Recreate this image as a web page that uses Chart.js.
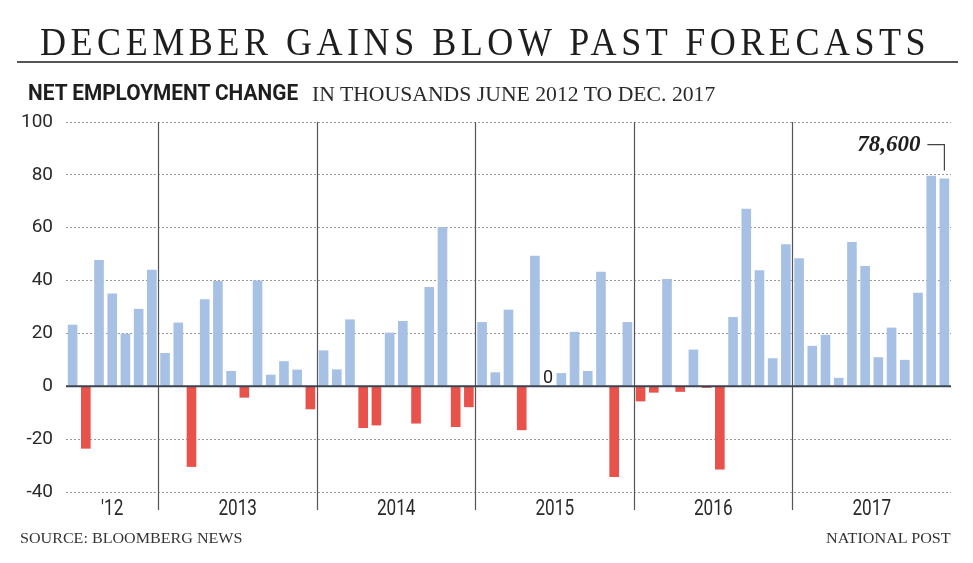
<!DOCTYPE html>
<html>
<head>
<meta charset="utf-8">
<script src="https://cdn.jsdelivr.net/npm/chart.js@4.4.1/dist/chart.umd.min.js"></script>
<style>
  body { margin: 0; background: #fff; }
  #wrap { position: relative; width: 973px; height: 563px; overflow: hidden; background: #fff; }
  #chart { position: absolute; left: 0; top: 0; }
  .txt { position: absolute; white-space: nowrap; transform-origin: left top; color: #1e1e1e; line-height: 1; }
  #title { font-family: "Liberation Serif", serif; font-size: 40px; letter-spacing: 5px; top: 22px; }
  #rule { position: absolute; left: 17px; top: 61px; width: 941px; height: 2px; background: #555; }
  #sub1 { font-family: Roboto, "Liberation Sans", sans-serif; font-weight: bold; font-size: 22px; top: 82px; }
  #sub2 { font-family: "Liberation Serif", serif; font-size: 21px; top: 84px; color: #2a2a2a; }
  #source, #credit { font-family: "Liberation Serif", serif; font-size: 15px; top: 531px; color: #333; }
</style>
</head>
<body>
<div id="wrap">
  <canvas id="chart" width="973" height="563"></canvas>
  <div id="title" class="txt">DECEMBER GAINS BLOW PAST FORECASTS</div>
  <div id="rule"></div>
  <div id="sub1" class="txt">NET EMPLOYMENT CHANGE</div>
  <div id="sub2" class="txt">IN THOUSANDS JUNE 2012 TO DEC. 2017</div>
  <div id="source" class="txt">SOURCE: BLOOMBERG NEWS</div>
  <div id="credit" class="txt">NATIONAL POST</div>
</div>
<script>
// net employment change, thousands, Jun 2012 - Dec 2017
const years = [2012, 2013, 2014, 2015, 2016, 2017];
const yearLabels = ["'12", '2013', '2014', '2015', '2016', '2017'];
const monthNames = ['Jan', 'Feb', 'Mar', 'Apr', 'May', 'Jun', 'Jul', 'Aug', 'Sep', 'Oct', 'Nov', 'Dec'];

const change2012 = [23.3, -23.6, 47.8, 35.1, 19.9, 29.3, 44.1]; // Jun-Dec
const change2013 = [12.6, 24.1, -30.5, 32.9, 39.8, 5.8, -4.3, 40.0, 4.4, 9.5, 6.3, -8.7];
const change2014 = [13.6, 6.4, 25.3, -15.8, -14.8, 20.3, 24.7, -14.1, 37.6, 60.3, -15.4, -7.9];
const change2015 = [24.3, 5.3, 29.0, -16.6, 49.4, 0, 5.0, 20.6, 5.8, 43.3, -34.3, 24.3];
const change2016 = [-5.7, -2.4, 40.6, -2.1, 13.9, -0.6, -31.5, 26.2, 67.2, 43.9, 10.6, 53.7];
const change2017 = [48.4, 15.3, 19.5, 3.2, 54.6, 45.5, 11.0, 22.2, 10.0, 35.4, 79.7, 78.6];

const yTicks = [-40, -20, 0, 20, 40, 60, 80, 100];
const lastLabel = '78,600';

const byYear = [change2012, change2013, change2014, change2015, change2016, change2017];
const labels = [];
const values = [];
const yearIndex = [];
byYear.forEach((arr, yi) => {
  const first = 12 - arr.length;
  arr.forEach((v, m) => {
    labels.push(monthNames[first + m] + ' ' + years[yi]);
    values.push(v);
    yearIndex.push(yi);
  });
});

const BLUE = '#a7c1e4';
const RED = '#e8524a';

// stretch html text so it spans the width seen in the picture
function fit(id, left, width, alignRight) {
  const el = document.getElementById(id);
  const w = el.offsetWidth;
  const s = width / w;
  el.style.left = (alignRight ? left - width : left) + 'px';
  el.style.transform = 'scaleX(' + s + ')';
}
fit('title', 40, 890);
fit('sub1', 28, 270);
fit('sub2', 312, 403);
fit('source', 20, 223);
fit('credit', 951, 125, true);

const decor = {
  id: 'decor',
  beforeDatasetsDraw(chart) {
    const { ctx, chartArea } = chart;
    const x = chart.scales.x;
    const step = x.getPixelForValue(1) - x.getPixelForValue(0);
    ctx.save();
    ctx.strokeStyle = '#555';
    ctx.lineWidth = 1.2;
    for (let i = 1; i < values.length; i++) {
      if (yearIndex[i] !== yearIndex[i - 1]) {
        const px = Math.round(x.getPixelForValue(i) - step / 2) + 0.5;
        ctx.beginPath();
        ctx.moveTo(px, chartArea.top);
        ctx.lineTo(px, chartArea.bottom + 18);
        ctx.stroke();
      }
    }
    ctx.restore();
  },
  afterDatasetsDraw(chart) {
    const { ctx, chartArea } = chart;
    const x = chart.scales.x, y = chart.scales.y;
    ctx.save();

    // zero line
    const y0 = y.getPixelForValue(0);
    ctx.strokeStyle = '#3a4352';
    ctx.lineWidth = 2;
    ctx.beginPath();
    ctx.moveTo(chartArea.left, y0);
    ctx.lineTo(chartArea.right, y0);
    ctx.stroke();

    // year labels centred in each section, condensed
    ctx.fillStyle = '#2a2a2a';
    ctx.font = '22px Roboto, "Liberation Sans", sans-serif';
    ctx.textAlign = 'center';
    ctx.textBaseline = 'middle';
    yearLabels.forEach((lab, yi) => {
      const first = yearIndex.indexOf(yi);
      const last = yearIndex.lastIndexOf(yi);
      const cx = (x.getPixelForValue(first) + x.getPixelForValue(last)) / 2;
      ctx.save();
      ctx.translate(cx, chartArea.bottom + 17);
      ctx.scale(0.78, 1);
      ctx.fillText(lab, 0, 0);
      ctx.restore();
    });

    // "0" over the flat month
    values.forEach((v, i) => {
      if (v === 0) {
        ctx.font = '18px Roboto, "Liberation Sans", sans-serif';
        ctx.textBaseline = 'alphabetic';
        ctx.textAlign = 'center';
        ctx.fillStyle = '#222';
        ctx.fillText('0', x.getPixelForValue(i), y0 - 3);
      }
    });

    // last value callout
    const li = values.length - 1;
    const bx = x.getPixelForValue(li);
    const by = y.getPixelForValue(values[li]);
    const ly = by - 34;
    ctx.strokeStyle = '#444';
    ctx.lineWidth = 1.2;
    ctx.beginPath();
    ctx.moveTo(bx - 17, ly);
    ctx.lineTo(bx, ly);
    ctx.lineTo(bx, by - 8);
    ctx.stroke();
    ctx.font = 'italic bold 23px "Liberation Serif", serif';
    ctx.fillStyle = '#1e1e1e';
    ctx.textAlign = 'right';
    ctx.textBaseline = 'middle';
    ctx.fillText(lastLabel, bx - 24, ly + 0.5);

    ctx.restore();
  }
};

new Chart(document.getElementById('chart'), {
  type: 'bar',
  data: {
    labels,
    datasets: [{
      data: values,
      backgroundColor: ctx => ctx.raw < 0 ? RED : BLUE,
      categoryPercentage: 1,
      barPercentage: 0.73
    }]
  },
  options: {
    responsive: false,
    animation: false,
    layout: { padding: { top: 122, right: 22, bottom: 31, left: 0 } },
    plugins: { legend: { display: false }, tooltip: { enabled: false } },
    scales: {
      x: {
        grid: { display: false },
        border: { display: false },
        ticks: { display: false },
        afterFit: s => { s.height = 40; }
      },
      y: {
        min: -40,
        max: 100,
        afterBuildTicks: s => { s.ticks = yTicks.map(v => ({ value: v })); },
        afterFit: s => { s.width = 66; },
        border: { display: false, dash: [2, 2] },
        grid: {
          color: c => c.tick && c.tick.value === 0 ? 'rgba(0,0,0,0)' : '#9a9a9a',
          lineWidth: 1,
          drawTicks: false
        },
        ticks: {
          padding: 13,
          color: '#2a2a2a',
          font: { family: 'Roboto, "Liberation Sans", sans-serif', size: 19 }
        }
      }
    }
  },
  plugins: [decor]
});
</script>
</body>
</html>
